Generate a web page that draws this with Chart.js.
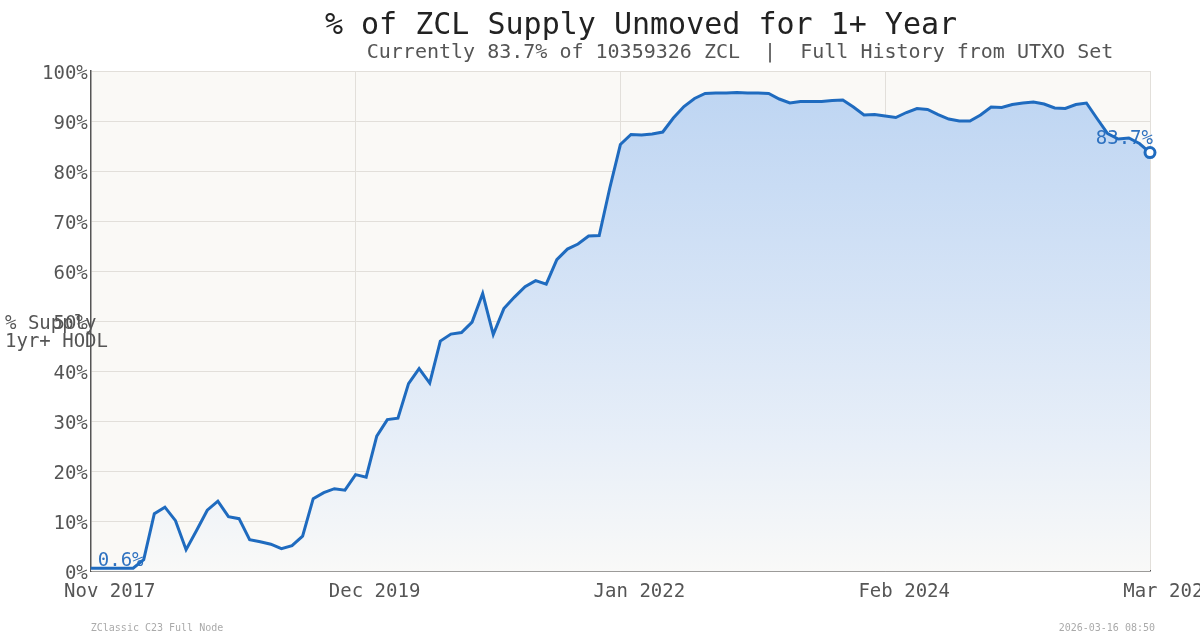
<!DOCTYPE html>
<html>
<head>
<meta charset="utf-8">
<script src="https://cdn.jsdelivr.net/npm/chart.js@4.4.1/dist/chart.umd.min.js"></script>
<style>
    html, body { margin: 0; padding: 0; background: #fff; }
</style>
</head>
<body>
<canvas id="hodl" width="1200" height="640"></canvas>
<script>
const MONO = '"DejaVu Sans Mono", "Liberation Mono", monospace'

const titleText = '% of ZCL Supply Unmoved for 1+ Year'
const subtitleText = 'Currently 83.7% of 10359326 ZCL  |  Full History from UTXO Set'
const axisTitle = ['% Supply', '1yr+ HODL']
const footerLeft = 'ZClassic C23 Full Node'
const footerRight = '2026-03-16 08:50'

const monthNames = ['Jan', 'Feb', 'Mar', 'Apr', 'May', 'Jun', 'Jul', 'Aug', 'Sep', 'Oct', 'Nov', 'Dec']
const tickLabels = ['Nov 2017', 'Dec 2019', 'Jan 2022', 'Feb 2024', 'Mar 2026']

// monthly % of supply unmoved for 1+ year, Nov 2017 .. Mar 2026
const hodlPct = [
    0.6, 0.6, 0.6, 0.6, 0.6, 2.3, 11.5, 12.8, 10.1, 4.3,
    8.2, 12.2, 14.0, 10.9, 10.5, 6.3, 5.9, 5.4, 4.5, 5.1,
    7.0, 14.5, 15.7, 16.5, 16.2, 19.3, 18.8, 27.0, 30.3, 30.6,
    37.5, 40.5, 37.6, 46.0, 47.4, 47.7, 49.8, 55.5, 47.3, 52.5,
    54.8, 56.9, 58.1, 57.4, 62.3, 64.4, 65.4, 67.0, 67.1, 76.6,
    85.3, 87.3, 87.2, 87.4, 87.8, 90.6, 92.9, 94.5, 95.5, 95.6,
    95.6, 95.7, 95.6, 95.6, 95.5, 94.4, 93.6, 93.9, 93.9, 93.9,
    94.1, 94.2, 92.8, 91.2, 91.3, 91.0, 90.7, 91.7, 92.5, 92.3,
    91.3, 90.4, 90.0, 90.0, 91.2, 92.8, 92.7, 93.3, 93.6, 93.8,
    93.4, 92.6, 92.5, 93.3, 93.6, 90.5, 87.5, 86.4, 86.6, 85.5,
    83.7
]

const months = []
for (let i = 0; i < hodlPct.length; i++) {
    const m = (10 + i) % 12
    const y = 2017 + Math.floor((10 + i) / 12)
    months.push(monthNames[m] + ' ' + y)
}

const lineColor = '#1f6bbf'
const gridColor = '#e2dfda'

const chrome = {
    id: 'chrome',
    beforeDraw(chart) {
        const { ctx, chartArea: a } = chart
        ctx.save()
        ctx.fillStyle = '#faf9f6'
        ctx.fillRect(a.left, a.top, a.right - a.left, a.bottom - a.top)
        ctx.restore()
    },
    // runs after the filler has painted the area, before the line itself
    beforeDatasetDraw(chart) {
        const { ctx } = chart
        const pts = chart.getDatasetMeta(0).data
        const first = pts[0], last = pts[pts.length - 1]
        ctx.save()
        ctx.font = '19px ' + MONO
        ctx.fillStyle = '#2f72c0'
        ctx.textBaseline = 'middle'
        ctx.textAlign = 'left'
        ctx.fillText(hodlPct[0].toFixed(1) + '%', first.x + 7, first.y - 7)
        ctx.textAlign = 'right'
        ctx.fillText(hodlPct[hodlPct.length - 1].toFixed(1) + '%', last.x + 3, last.y - 13)
        ctx.restore()
    },
    afterDraw(chart) {
        const { ctx, chartArea: a } = chart
        const mid = (a.top + a.bottom) / 2
        ctx.save()
        ctx.textBaseline = 'middle'

        ctx.textAlign = 'center'
        ctx.fillStyle = '#222'
        ctx.font = '30px ' + MONO
        ctx.fillText(titleText, 641, 26)
        ctx.fillStyle = '#555'
        ctx.font = '20px ' + MONO
        ctx.fillText(subtitleText, 740, 53)

        ctx.textAlign = 'left'
        ctx.fillStyle = '#555'
        ctx.font = '19px ' + MONO
        ctx.fillText(axisTitle[0], 5, mid + 3)
        ctx.fillText(axisTitle[1], 5, mid + 21)

        ctx.fillStyle = '#aaa'
        ctx.font = '10px ' + MONO
        ctx.fillText(footerLeft, a.left, 628)
        ctx.textAlign = 'right'
        ctx.fillText(footerRight, a.right + 5, 628)
        ctx.restore()
    }
}

function areaFill(context) {
    const a = context.chart.chartArea
    if (!a) return '#d6e4f6'
    const g = context.chart.ctx.createLinearGradient(0, a.top, 0, a.bottom)
    g.addColorStop(0, '#bcd4f2')
    g.addColorStop(0.46, '#d6e4f6')
    g.addColorStop(0.75, '#e8eff8')
    g.addColorStop(1, '#f9f9f8')
    return g
}

new Chart(document.getElementById('hodl').getContext('2d'), {
    type: 'line',
    data: {
        labels: months,
        datasets: [{
            label: '% Supply 1yr+ HODL',
            data: hodlPct,
            borderColor: lineColor,
            borderWidth: 3,
            backgroundColor: areaFill,
            fill: 'origin',
            tension: 0,
            clip: false,
            pointRadius: ctx => ctx.dataIndex === hodlPct.length - 1 ? 5 : 0,
            pointBackgroundColor: '#fff',
            pointBorderColor: lineColor,
            pointBorderWidth: 3
        }]
    },
    options: {
        responsive: false,
        animation: false,
        layout: {
            padding: { top: 71, left: 39, right: 0, bottom: 28 }
        },
        plugins: {
            legend: { display: false },
            tooltip: { enabled: false },
            title: { display: false }
        },
        scales: {
            x: {
                type: 'category',
                afterFit: scale => { scale.paddingRight = 50 },
                grid: {
                    drawTicks: false,
                    color: ctx => (ctx.tick && tickLabels.includes(ctx.tick.label)) ? gridColor : 'rgba(0,0,0,0)'
                },
                border: { color: '#555', width: 1.5 },
                ticks: {
                    autoSkip: false,
                    maxRotation: 0,
                    padding: 9,
                    labelOffset: 19,
                    color: '#555',
                    font: { family: MONO, size: 19 },
                    callback: function (value, index) {
                        return tickLabels.includes(months[index]) ? months[index] : ''
                    }
                }
            },
            y: {
                min: 0,
                max: 100,
                grid: { drawTicks: false, color: gridColor },
                border: { color: '#555', width: 1.5 },
                ticks: {
                    stepSize: 10,
                    padding: 3,
                    labelOffset: 3,
                    color: '#555',
                    font: { family: MONO, size: 19 },
                    callback: v => v + '%'
                }
            }
        }
    },
    plugins: [chrome]
})
</script>
</body>
</html>
